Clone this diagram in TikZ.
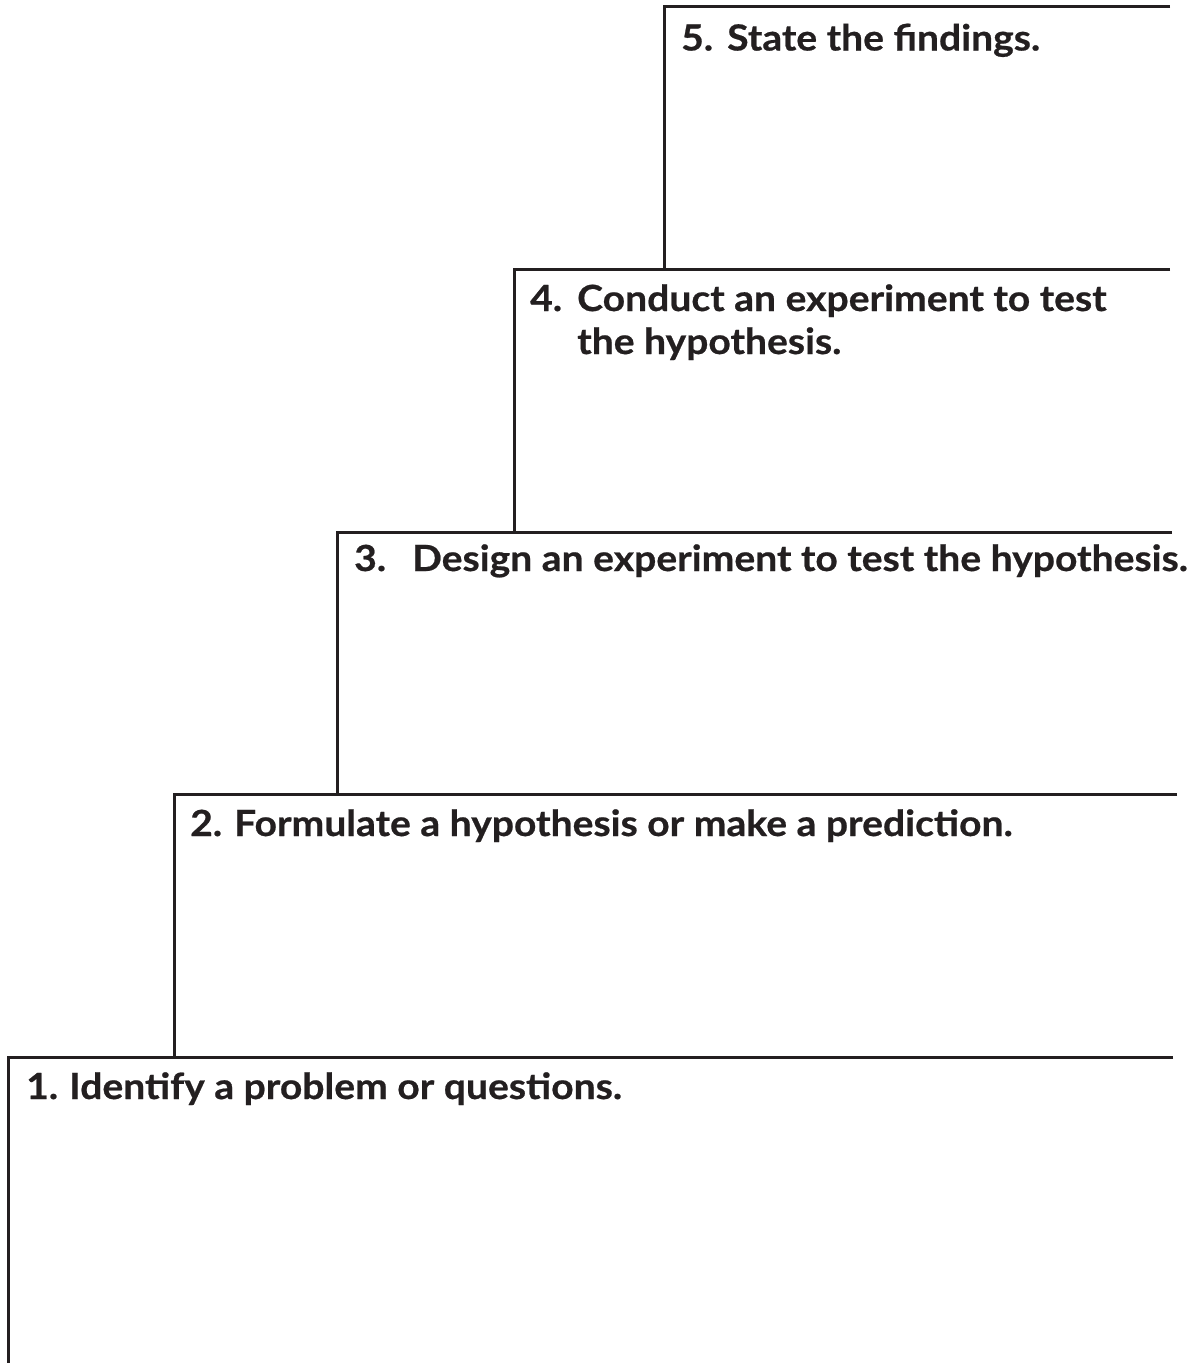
\documentclass[tikz,border=0pt]{standalone}
\usepackage{fontspec}
\setmainfont{Lato}[BoldFeatures={FakeStretch=1.085,FakeBold=0.6}]
\definecolor{ink}{HTML}{231F20}
\newcommand{\stepnum}[2]{\makebox[#1pt][l]{#2}}
\begin{document}
\begin{tikzpicture}[x=1pt,y=-1pt,
  stair/.style={draw=ink,line width=3pt,line cap=butt,line join=miter},
  steplabel/.style={anchor=base west,inner sep=0pt,text=ink,
    font=\fontsize{36}{43}\selectfont\bfseries,align=left}]
\useasboundingbox (0,0) rectangle (1201,1363);
% corners
\coordinate (t5) at (664,6);    \coordinate (r5) at (1170,6);
\coordinate (t4) at (514,269);  \coordinate (r4) at (1170,269);  \coordinate (b5) at (664,269);
\coordinate (t3) at (337,532);  \coordinate (r3) at (1172,532);  \coordinate (b4) at (514,532);
\coordinate (t2) at (174,794);  \coordinate (r2) at (1177,794);  \coordinate (b3) at (337,794);
\coordinate (t1) at (8,1057);   \coordinate (r1) at (1173,1057); \coordinate (b2) at (174,1057);
\coordinate (b1) at (8,1363);
% lines
\draw[stair] (r5) -- (t5) -- (b5);
\draw[stair] (r4) -- (t4) -- (b4);
\draw[stair] (r3) -- (t3) -- (b3);
\draw[stair] (r2) -- (t2) -- (b2);
\draw[stair] (r1) -- (t1) -- (b1);
% labels
\node[steplabel] (s5) at (681,50.5) {\stepnum{46}{5.}State the findings.};
\node[steplabel] (s4) at (530,311) {\stepnum{47}{4.}Conduct an experiment to test};
\node[steplabel] (s4b) at (577,354) {the hypothesis.};
\node[steplabel] (s3) at (354,571) {\stepnum{58}{3.}Design an experiment to test the hypothesis.};
\node[steplabel] (s2) at (190,836) {\stepnum{44}{2.}Formulate a hypothesis or make a prediction.};
\node[steplabel] (s1) at (26,1099) {\stepnum{43}{1.}Identify a problem or questions.};
\end{tikzpicture}
\end{document}
